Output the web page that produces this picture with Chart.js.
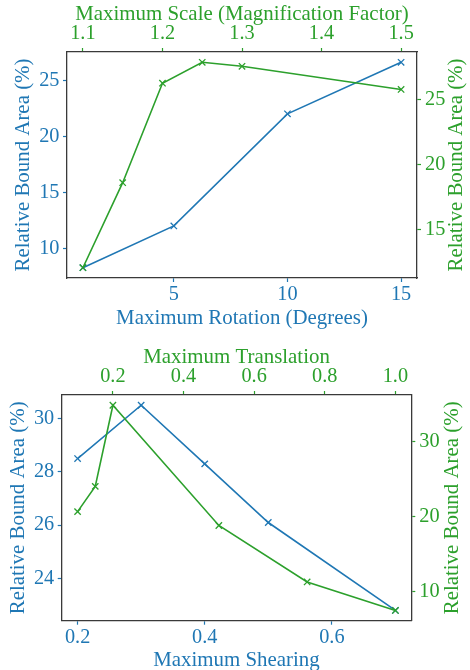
<!DOCTYPE html>
<html><head><meta charset="utf-8">
<script src="https://cdn.jsdelivr.net/npm/chart.js@4.4.1/dist/chart.umd.min.js"></script>
<style>html,body{margin:0;padding:0;background:#fff;} canvas{display:block;}</style>
</head><body>
<div style="width:470px;height:335px"><canvas id="c1" width="470" height="335"></canvas></div>
<div style="width:470px;height:335px"><canvas id="c2" width="470" height="335"></canvas></div>
<script>
// ---- data ----
const rotationX = [1, 5, 10, 15];
const rotationArea = [8.27, 12.0, 22.0, 26.6];
const scaleX = [1.1, 1.15, 1.2, 1.25, 1.3, 1.5];
const scaleArea = [12.06, 18.6, 26.25, 27.86, 27.55, 25.77];
const shearX = [0.2, 0.3, 0.4, 0.5, 0.7];
const shearArea = [28.5, 30.5, 28.3, 26.1, 22.8];
const translationX = [0.1, 0.15, 0.2, 0.5, 0.75, 1.0];
const translationArea = [20.7, 24.06, 34.87, 18.85, 11.33, 7.53];

// ---- tick labels ----
const rotationTicks = [5, 10, 15];
const rotationAreaTicks = [10, 15, 20, 25];
const scaleTicks = [1.1, 1.2, 1.3, 1.4, 1.5];
const scaleAreaTicks = [15, 20, 25];
const shearTicks = [0.2, 0.4, 0.6];
const shearAreaTicks = [24, 26, 28, 30];
const translationTicks = [0.2, 0.4, 0.6, 0.8, 1.0];
const translationAreaTicks = [10, 20, 30];

const BLUE = '#1f77b4';
const GREEN = '#2ca02c';
const FONT = 'Liberation Serif';

function range(arr) {
  const mn = Math.min(...arr), mx = Math.max(...arr);
  const d = (mx - mn) * 0.05;
  return [mn - d, mx + d];
}

function axis(pos, tickVals, data, color, decimals, size, pad) {
  const [min, max] = range(data);
  const vertical = (pos === 'left' || pos === 'right');
  return {
    type: 'linear', position: pos, min, max,
    afterBuildTicks: s => { s.ticks = tickVals.map(v => ({value: v})); },
    afterFit: s => { if (vertical) s.width = size; else s.height = size; },
    grid: {display: true, drawOnChartArea: false, drawTicks: true, tickLength: 4, tickWidth: 1.2, tickColor: color, color: color},
    border: {display: true, color: '#3a3a3a', width: 1.3},
    ticks: {color, font: {family: FONT, size: 20.3}, padding: pad, maxRotation: 0, autoSkip: false,
            callback: v => Number(v).toFixed(decimals)},
    title: {display: false}
  };
}

const titlePlugin = {
  id: 'axisTitles',
  afterDraw(chart, args, o) {
    const {ctx, chartArea: a} = chart;
    const cx = (a.left + a.right) / 2, cy = (a.top + a.bottom) / 2;
    ctx.save();
    ctx.font = '20.9px "' + FONT + '"';
    ctx.textAlign = 'center'; ctx.textBaseline = 'middle';
    ctx.fillStyle = BLUE; ctx.fillText(o.bottom, cx, a.bottom + o.bottomOff);
    ctx.fillStyle = GREEN; ctx.fillText(o.top, cx, a.top - o.topOff);
    ctx.save(); ctx.translate(a.left - o.leftOff, cy); ctx.rotate(-Math.PI / 2);
    ctx.fillStyle = BLUE; ctx.fillText(o.left, 0, 0); ctx.restore();
    ctx.save(); ctx.translate(a.right + o.rightOff, cy); ctx.rotate(-Math.PI / 2);
    ctx.fillStyle = GREEN; ctx.fillText(o.right, 0, 0); ctx.restore();
    ctx.restore();
  }
};

function series(xs, ys, color, xId, yId, order) {
  return {
    data: xs.map((x, i) => ({x, y: ys[i]})),
    xAxisID: xId, yAxisID: yId, order,
    showLine: true, borderColor: color, backgroundColor: color, borderWidth: 1.6,
    pointStyle: 'crossRot', pointRadius: 4.5, pointBorderWidth: 1.3, pointBorderColor: color,
    tension: 0, fill: false, clip: false
  };
}

function makeChart(id, cfg) {
  return new Chart(document.getElementById(id), {
    type: 'scatter',
    data: {datasets: [
      series(cfg.gx, cfg.gy, GREEN, 'xt', 'yr', 0),
      series(cfg.bx, cfg.by, BLUE, 'xb', 'yl', 1)
    ]},
    options: {
      responsive: false, animation: false, devicePixelRatio: 1,
      layout: {padding: 0},
      plugins: {legend: {display: false}, tooltip: {enabled: false}, axisTitles: cfg.titles},
      scales: {
        xb: axis('bottom', cfg.bTicks, cfg.bx, BLUE, cfg.bDec, cfg.sizes.bottom, 0.8),
        xt: axis('top', cfg.tTicks, cfg.gx, GREEN, cfg.tDec, cfg.sizes.top, 2.5),
        yl: axis('left', cfg.lTicks, cfg.by, BLUE, 0, cfg.sizes.left, 3.5),
        yr: axis('right', cfg.rTicks, cfg.gy, GREEN, 0, cfg.sizes.right, 4)
      }
    },
    plugins: [titlePlugin]
  });
}

makeChart('c1', {
  bx: rotationX, by: rotationArea, gx: scaleX, gy: scaleArea,
  bTicks: rotationTicks, tTicks: scaleTicks, lTicks: rotationAreaTicks, rTicks: scaleAreaTicks,
  bDec: 0, tDec: 1,
  sizes: {left: 67, right: 53, top: 52, bottom: 57},
  titles: {bottom: 'Maximum Rotation (Degrees)', top: 'Maximum Scale (Magnification Factor)',
           left: 'Relative Bound Area (%)', right: 'Relative Bound Area (%)',
           bottomOff: 40.5, topOff: 37, leftOff: 43.7, rightOff: 40}
});

makeChart('c2', {
  bx: shearX, by: shearArea, gx: translationX, gy: translationArea,
  bTicks: shearTicks, tTicks: translationTicks, lTicks: shearAreaTicks, rTicks: translationAreaTicks,
  bDec: 1, tDec: 1,
  sizes: {left: 61.7, right: 58.7, top: 60, bottom: 49.3},
  titles: {bottom: 'Maximum Shearing', top: 'Maximum Translation',
           left: 'Relative Bound Area (%)', right: 'Relative Bound Area (%)',
           bottomOff: 39.8, topOff: 37.3, leftOff: 43.4, rightOff: 41}
});
</script>
</body></html>
